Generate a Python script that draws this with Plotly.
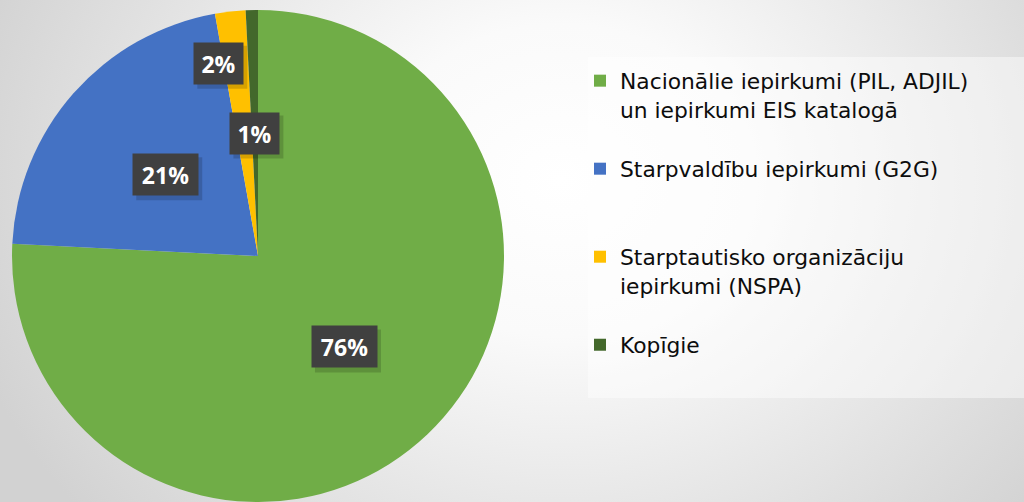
import base64
import math
import plotly.graph_objects as go

# ---- data ----
categories = [
    "Nacionālie iepirkumi (PIL, ADJIL)<br>un iepirkumi EIS katalogā<br> ",
    "Starpvaldību iepirkumi (G2G)<br> <br> ",
    "Starptautisko organizāciju<br>iepirkumi (NSPA)<br> ",
    "Kopīgie",
]
shares = [75.8, 21.4, 2.0, 0.8]
colors = ["#70ad47", "#4472c4", "#ffc000", "#43682b"]

# ---- style / layout constants ----
W, H = 1024, 502
CX, CY, R = 258, 256, 246           # pie centre / radius in px
label_radius = [0.51, 0.50, 0.80, 0.50]
label_angle_shift = [0, 0, -5, 0]

# background gradient (SVG data URI)
svg = f"""<svg xmlns='http://www.w3.org/2000/svg' width='{W}' height='{H}' viewBox='0 0 {W} {H}'>
<defs><radialGradient id='g' gradientUnits='userSpaceOnUse' cx='0' cy='0' r='1'
 gradientTransform='translate(560 180) scale(620 520)'>
<stop offset='0' stop-color='#ffffff'/><stop offset='0.3' stop-color='#fafafa'/>
<stop offset='1' stop-color='#d2d2d2'/></radialGradient></defs>
<rect width='{W}' height='{H}' fill='url(#g)'/></svg>"""
bg_uri = "data:image/svg+xml;base64," + base64.b64encode(svg.encode()).decode()

fig = go.Figure(
    go.Pie(
        labels=categories,
        values=shares,
        sort=False,
        direction="clockwise",
        rotation=0,
        marker=dict(colors=colors, line=dict(width=0)),
        textinfo="none",
        hovertemplate="%{label}: %{percent}<extra></extra>",
        domain=dict(x=[(CX - R) / W, (CX + R) / W], y=[1 - (CY + R) / H, 1 - (CY - R) / H]),
    )
)

# percentage labels from the data
total = sum(shares)
cum = 0.0
annotations = []
shapes = [dict(type="rect", xref="paper", yref="paper",
               x0=588 / W, x1=1.0, y0=1 - 398 / H, y1=1 - 57 / H,
               fillcolor="rgba(255,255,255,0.45)", line=dict(width=0),
               layer="below")]
for i, v in enumerate(shares):
    mid = (cum + v / 2) / total * 360 + label_angle_shift[i]
    cum += v
    th = math.radians(mid)
    px = CX + label_radius[i] * R * math.sin(th)
    py = CY - label_radius[i] * R * math.cos(th)
    txt = f"{round(v / total * 100)}%"
    bw = 16 * len(txt) + 17
    bh = 41
    # drop shadow
    shapes.append(dict(type="rect", xref="paper", yref="paper", layer="above",
                       x0=(px - bw / 2 + 3) / W, x1=(px + bw / 2 + 4) / W,
                       y0=1 - (py + bh / 2 + 5) / H, y1=1 - (py - bh / 2 + 3) / H,
                       fillcolor="rgba(0,0,0,0.16)", line=dict(width=0)))
    annotations.append(dict(
        x=px / W, y=1 - py / H, xref="paper", yref="paper",
        xanchor="center", yanchor="middle",
        text=f"<b>{txt}</b>", showarrow=False, width=bw, height=bh, borderpad=0,
        bgcolor="#404040", font=dict(color="white", size=23, family="Open Sans"),
    ))

fig.update_layout(
    width=W, height=H,
    margin=dict(l=0, r=0, t=0, b=0),
    paper_bgcolor="#e6e6e6",
    plot_bgcolor="rgba(0,0,0,0)",
    images=[dict(source=bg_uri, xref="paper", yref="paper", x=0, y=1,
                 sizex=1, sizey=1, xanchor="left", yanchor="top",
                 sizing="stretch", layer="below")],
    shapes=shapes,
    legend=dict(
        x=580 / W, xanchor="left", y=1 - 60 / H, yanchor="top",
        bgcolor="rgba(0,0,0,0)", borderwidth=0,
        font=dict(family="DejaVu Sans", size=21.8, color="#0d0d0d"),
        valign="top", traceorder="normal",
    ),
    annotations=annotations,
    showlegend=True,
)

fig.write_html("out.html", config={"displayModeBar": False},
               post_script="document.body.style.margin='0';")
